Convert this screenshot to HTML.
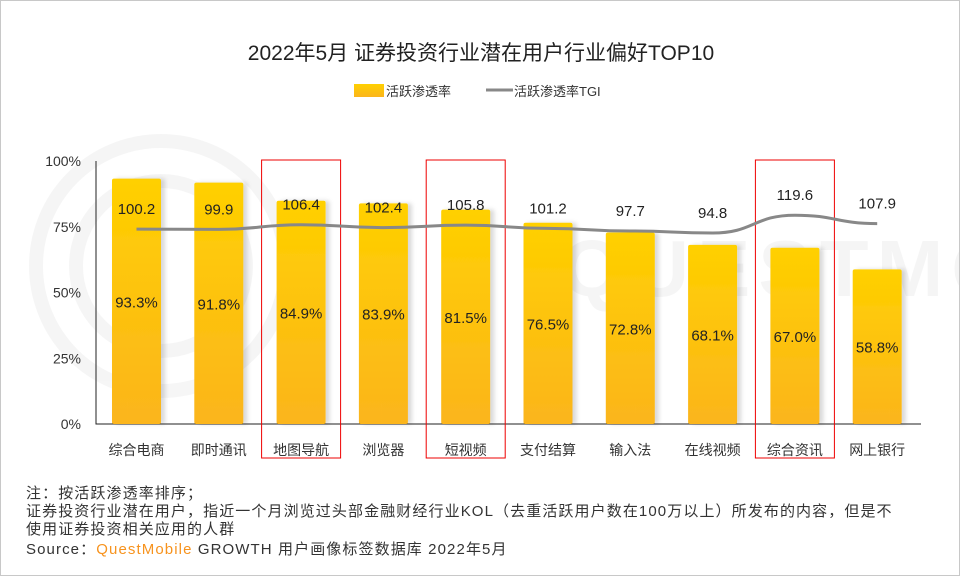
<!DOCTYPE html>
<html><head><meta charset="utf-8"><style>
body{margin:0;background:#fff;}
#wrap{position:relative;width:958px;height:574px;border:1px solid #c8c8c8;font-family:"Liberation Sans","Noto Sans CJK SC",sans-serif;overflow:hidden;}
svg text{font-family:"Liberation Sans","Noto Sans CJK SC",sans-serif;}
.note{position:absolute;left:25px;font-size:15px;color:#333;line-height:18px;white-space:nowrap;letter-spacing:1.1px;}
</style></head><body>
<div id="wrap">
<svg id="chart" width="958" height="574">
<defs>
<linearGradient id="bg" x1="0" y1="0" x2="0" y2="1"><stop offset="0" stop-color="#ffd000"/><stop offset="1" stop-color="#fbb51c"/></linearGradient>
<filter id="sh" x="-20%" y="-5%" width="150%" height="110%"><feDropShadow dx="4" dy="0" stdDeviation="2" flood-color="#000" flood-opacity="0.15"/></filter>
</defs>
<g opacity="0.035" fill="none" stroke="#000" stroke-width="14">
<circle cx="160" cy="265" r="125"/><circle cx="160" cy="265" r="85"/>
<text x="560" y="295" font-size="80" fill="#000" stroke="none" font-weight="bold" letter-spacing="8">QUESTMOBILE</text>
</g>
<text x="480" y="59" text-anchor="middle" font-size="21" fill="#222">2022年5月 证券投资行业潜在用户行业偏好TOP10</text>
<g>
<rect x="353" y="83" width="30" height="13" fill="url(#bg)"/>
<text x="385" y="95" font-size="13" fill="#333">活跃渗透率</text>
<line x1="485" y1="89" x2="512" y2="89" stroke="#888" stroke-width="3"/>
<text x="513" y="95" font-size="13" fill="#333">活跃渗透率TGI</text>
</g>
<g id="plot"></g>
</svg>
<div class="note" style="top:484px">注：按活跃渗透率排序；</div>
<div class="note" style="top:502px">证券投资行业潜在用户，指近一个月浏览过头部金融财经行业KOL（去重活跃用户数在100万以上）所发布的内容，但是不</div>
<div class="note" style="top:520px">使用证券投资相关应用的人群</div>
<div class="note" style="top:540px">Source：<span style="color:#f7931e">QuestMobile</span> GROWTH 用户画像标签数据库 2022年5月</div>
</div>
<script>
const categories=["综合电商","即时通讯","地图导航","浏览器","短视频","支付结算","输入法","在线视频","综合资讯","网上银行"];
const penetration=[93.3,91.8,84.9,83.9,81.5,76.5,72.8,68.1,67.0,58.8];
const tgi=[100.2,99.9,106.4,102.4,105.8,101.2,97.7,94.8,119.6,107.9];
const yTicks=[0,25,50,75,100];
const highlighted=["地图导航","短视频","综合资讯"];
const NS="http://www.w3.org/2000/svg";
const g=document.getElementById('plot');
function mk(t,a){const e=document.createElementNS(NS,t);for(const k in a)e.setAttribute(k,a[k]);g.appendChild(e);return e;}
const y0=423,yTop=160;
const y=v=>y0-(v/100)*(y0-yTop);
const x=i=>135.5+i*82.3;
const yT=v=>300.3-v*0.72;
yTicks.forEach(t=>{const e=mk('text',{x:80,y:y(t)+5,'text-anchor':'end','font-size':14,fill:'#333'});e.textContent=t+'%';

});
const ax=mk('path',{d:`M95,${yTop} V${y0} H920`,stroke:'#222','stroke-width':1,fill:'none'});


const bw=49;
penetration.forEach((v,i)=>{
 const r=mk('rect',{x:x(i)-bw/2,y:y(v),width:bw,height:y0-y(v),rx:2,fill:'url(#bg)',filter:'url(#sh)'});
 
 
 const t=mk('text',{x:x(i),y:(y(v)+y0)/2+6,'text-anchor':'middle','font-size':15,fill:'#222'});t.textContent=v.toFixed(1)+'%';
 
 
 const c=mk('text',{x:x(i),y:454,'text-anchor':'middle','font-size':14,fill:'#333'});c.textContent=categories[i];
 
 
 if(highlighted.includes(categories[i])){
  const b=mk('rect',{x:x(i)-39.5,y:159,width:79,height:298,fill:'none',stroke:'#e00','stroke-width':1});
  
  
 }
});
let d=`M${x(0)},${yT(tgi[0])}`;
for(let i=1;i<tgi.length;i++){const xm=(x(i-1)+x(i))/2;d+=` C${xm},${yT(tgi[i-1])} ${xm},${yT(tgi[i])} ${x(i)},${yT(tgi[i])}`;}
const ln=mk('path',{d:d,stroke:'#888','stroke-width':3,fill:'none'});


tgi.forEach((v,i)=>{const t=mk('text',{x:x(i),y:yT(v)-15,'text-anchor':'middle','font-size':15,fill:'#222'});t.textContent=v.toFixed(1);
 
 });
</script>
</body></html>
